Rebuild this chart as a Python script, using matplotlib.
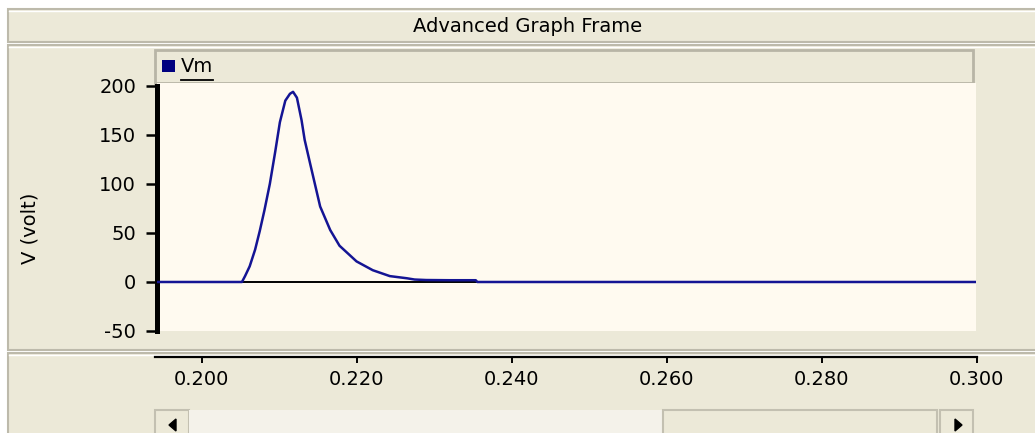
import numpy as np
import matplotlib
matplotlib.use('Agg')
import matplotlib.pyplot as plt
import matplotlib.patches as mpatches
from matplotlib.ticker import FormatStrFormatter

plt.rcParams['axes.unicode_minus'] = False

# ── Data ──────────────────────────────────────────────────────────────────────
series_name = 'Vm'
t_sec = [0.1942, 0.2052, 0.2056, 0.2062, 0.2069, 0.2075, 0.2081, 0.2088,
         0.2095, 0.2101, 0.2108, 0.2114, 0.2118, 0.2123, 0.2129, 0.2133,
         0.2140, 0.2153, 0.2166, 0.2178, 0.2200, 0.2221, 0.2243, 0.2265,
         0.2275, 0.2290, 0.2320, 0.2354, 0.2356, 0.3000]
vm_volt = [0, 0, 6, 16, 33, 52, 73, 100,
           133, 163, 185, 192, 194, 188, 165, 145,
           121, 77, 53, 37, 21, 12, 6, 3.8,
           2.5, 2.0, 1.8, 1.8, 0, 0]
y_ticks = [-50, 0, 50, 100, 150, 200]
x_ticks = [0.200, 0.220, 0.240, 0.260, 0.280, 0.300]
title = 'Advanced Graph Frame'
y_label = 'V (volt)'

# ── Palette ───────────────────────────────────────────────────────────────────
GRAY   = '#ece9d8'
CREAM  = '#fffaf0'
EDGE   = '#bdbaab'
BLUE   = '#141494'
FS     = 14

W, H = 1035, 433
fig = plt.figure(figsize=(W / 100, H / 100), dpi=100, facecolor='white')


def px_rect(l, t, r, b):
    return [l / W, 1 - b / H, (r - l) / W, (b - t) / H]


# overlay in pixel coords for the window chrome
bg = fig.add_axes([0, 0, 1, 1], zorder=0)
bg.set_xlim(0, W)
bg.set_ylim(H, 0)
bg.axis('off')


def box(l, t, r, b, fc=GRAY, ec=EDGE, lw=1.5, z=1):
    bg.add_patch(mpatches.Rectangle((l, t), r - l, b - t, facecolor=fc,
                                    edgecolor=ec, linewidth=lw, zorder=z))


# title bar
box(8, 9, W + 5, 42)
bg.plot([9, W], [11, 11], color='white', lw=1, zorder=2)
bg.text(528, 27, title, fontsize=FS, ha='center', va='center', zorder=3)

# main panel + bottom panel
box(8, 45, W + 5, 350)
bg.plot([9, W], [47, 47], color='white', lw=1, zorder=2)
box(8, 353, W + 5, H + 5)
bg.plot([9, W], [355, 355], color='white', lw=1, zorder=2)

# legend strip
box(155, 50, 973, 83, ec='#b8b5a6', lw=2, z=2)
bg.add_patch(mpatches.Rectangle((162, 60), 13, 12, facecolor='#000080',
                                edgecolor='none', zorder=3))
bg.text(181, 66, series_name, fontsize=FS, ha='left', va='center', zorder=3)
bg.plot([181, 213], [80, 80], color='black', lw=1.3, zorder=3)

# y label
bg.text(30, 228, y_label, fontsize=FS, rotation=90, ha='center', va='center')

# scrollbar
box(155, 410, 189, H + 5, fc=GRAY, ec='#c3c0b1', lw=1.5, z=2)
box(189, 410, 663, H + 5, fc='#f4f2ea', ec='none', lw=0, z=2)
box(663, 410, 937, H + 5, fc=GRAY, ec='#c3c0b1', lw=1.5, z=2)
box(940, 410, 973, H + 5, fc=GRAY, ec='#c3c0b1', lw=1.5, z=2)
bg.add_patch(mpatches.Polygon([[169, 425], [176, 419], [176, 431]],
                              closed=True, color='black', zorder=3))
bg.add_patch(mpatches.Polygon([[962, 425], [955, 419], [955, 431]],
                              closed=True, color='black', zorder=3))

# ── Plot area ─────────────────────────────────────────────────────────────────
ax = fig.add_axes(px_rect(157, 83, 976, 331), zorder=2)
ax.set_facecolor(CREAM)
ax.set_xlim(0.19423, 0.300)
ax.set_ylim(-50, 203)
ax.axhline(0, color='black', lw=1.4, zorder=2)
ax.plot(t_sec, vm_volt, color=BLUE, lw=1.8, zorder=3)

for s in ('top', 'right', 'bottom'):
    ax.spines[s].set_visible(False)
ax.spines['left'].set_linewidth(3.6)
ax.spines['left'].set_bounds(-50, 200)
ax.set_xticks([])
ax.set_yticks(y_ticks)
ax.tick_params(axis='y', length=8, width=1.8, pad=7, labelsize=FS,
               color='black')

# ── Separate x axis strip ─────────────────────────────────────────────────────
axb = fig.add_axes(px_rect(155, 350, 977, 357), zorder=2)
axb.patch.set_visible(False)
axb.set_xlim(0.19398, 0.30001)
for s in ('top', 'right', 'left'):
    axb.spines[s].set_visible(False)
axb.spines['bottom'].set_linewidth(1.6)
axb.set_yticks([])
axb.set_xticks(x_ticks)
axb.xaxis.set_major_formatter(FormatStrFormatter('%.3f'))
axb.tick_params(axis='x', length=4.5, width=1.4, pad=5, labelsize=FS)

fig.savefig('out.png', dpi=100, facecolor='white')
